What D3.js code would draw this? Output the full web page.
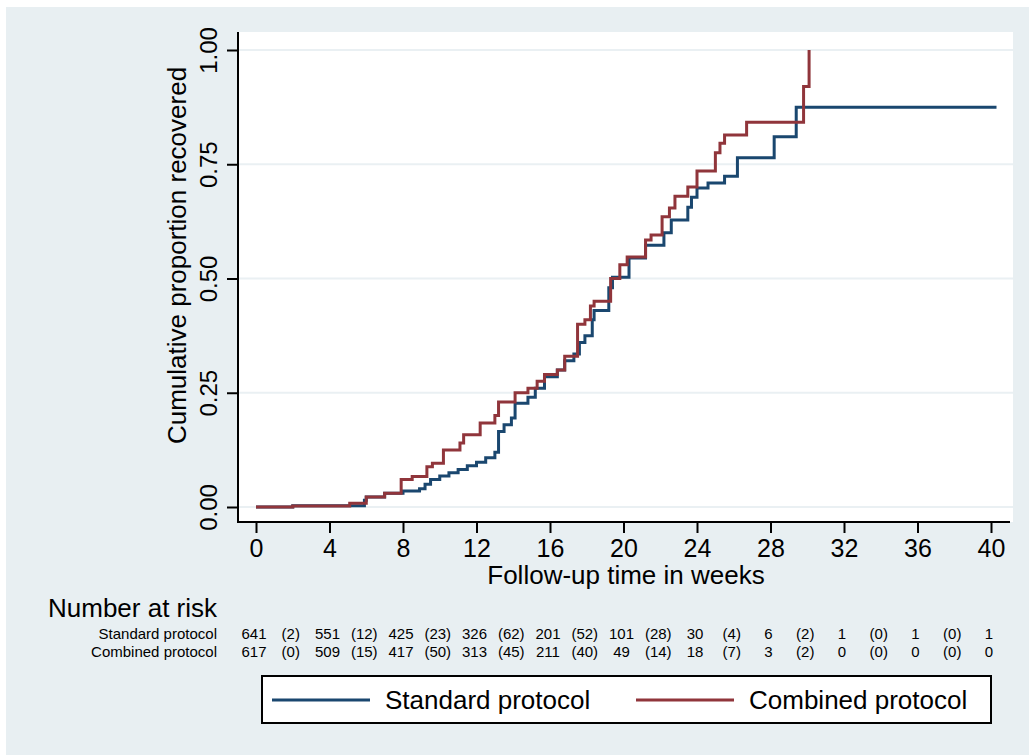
<!DOCTYPE html>
<html>
<head>
<meta charset="utf-8">
<script src="https://cdn.jsdelivr.net/npm/d3@7"></script>
<style>
  body { margin: 0; background: #fff; }
  text { font-family: "Liberation Sans", Arial, sans-serif; fill: #000; }
</style>
</head>
<body>
<svg width="1029" height="755"></svg>
<script>
// step points (time in weeks, cumulative proportion)
const stdTimes = [0, 2.0, 5.9, 6.0, 7.0, 8.0, 8.9, 9.2, 9.5, 10.0, 10.5, 11.0, 11.5, 12.0, 12.5, 13.0, 13.2, 13.5, 13.9, 14.1, 14.8, 15.2, 15.7, 16.4, 16.8, 17.3, 17.6, 17.9, 18.3, 18.4, 19.2, 19.4, 20.3, 21.2, 22.2, 22.6, 23.5, 23.7, 24.0, 24.6, 25.5, 26.2, 28.2, 29.4, 40.3];
const stdValues = [0, 0.003, 0.015, 0.022, 0.03, 0.035, 0.04, 0.05, 0.06, 0.068, 0.075, 0.082, 0.09, 0.098, 0.108, 0.12, 0.165, 0.18, 0.195, 0.227, 0.24, 0.26, 0.285, 0.30, 0.32, 0.335, 0.36, 0.375, 0.41, 0.43, 0.48, 0.503, 0.545, 0.573, 0.60, 0.628, 0.656, 0.678, 0.698, 0.709, 0.724, 0.764, 0.81, 0.875, 0.875];

const cmbTimes = [0, 2.0, 5.1, 6.0, 7.0, 7.9, 8.5, 9.3, 9.6, 10.2, 11.1, 11.3, 12.2, 13.0, 13.2, 14.1, 14.8, 15.3, 15.7, 16.4, 16.8, 17.5, 17.9, 18.2, 18.4, 19.3, 19.8, 20.2, 21.2, 21.5, 22.1, 22.5, 22.8, 23.5, 24.0, 25.0, 25.25, 25.5, 26.7, 29.8, 30.1, 30.1];
const cmbValues = [0, 0.002, 0.008, 0.022, 0.03, 0.06, 0.067, 0.088, 0.096, 0.125, 0.14, 0.158, 0.184, 0.20, 0.23, 0.25, 0.26, 0.275, 0.29, 0.30, 0.33, 0.40, 0.41, 0.44, 0.45, 0.50, 0.53, 0.547, 0.584, 0.595, 0.635, 0.654, 0.68, 0.70, 0.735, 0.775, 0.796, 0.814, 0.842, 0.92, 1.0, 1.0];

const xTicks = [0, 4, 8, 12, 16, 20, 24, 28, 32, 36, 40];
const yTicks = [0, 0.25, 0.5, 0.75, 1];

// number at risk (at ticks) and events in between (in brackets)
const stdRisk = [641, 551, 425, 326, 201, 101, 30, 6, 1, 1, 1];
const stdEvents = [2, 12, 23, 62, 52, 28, 4, 2, 0, 0];
const cmbRisk = [617, 509, 417, 313, 211, 49, 18, 3, 0, 0, 0];
const cmbEvents = [0, 15, 50, 45, 40, 14, 7, 2, 0, 0];

const seriesNames = ['Standard protocol', 'Combined protocol'];
const colors = ['#1a476f', '#90353b'];

const svg = d3.select('svg');
const width = +svg.attr('width');
const height = +svg.attr('height');

const plot = { left: 238, right: 1013, top: 32, bottom: 522 };

// graph region background
svg.append('rect')
  .attr('x', 6).attr('y', 7)
  .attr('width', width - 6).attr('height', height - 7)
  .attr('fill', '#e8eff2');

svg.append('rect')
  .attr('x', plot.left).attr('y', plot.top)
  .attr('width', plot.right - plot.left).attr('height', plot.bottom - plot.top)
  .attr('fill', '#fff');

const xScale = d3.scaleLinear().domain([0, 40]).range([256, 991]);
const yScale = d3.scaleLinear().domain([0, 1]).range([507, 50]);

// gridlines
svg.append('g').selectAll('line').data(yTicks)
  .enter().append('line')
    .attr('x1', plot.left + 1).attr('x2', plot.right)
    .attr('y1', d => yScale(d)).attr('y2', d => yScale(d))
    .attr('stroke', '#eaf0f3')
    .attr('stroke-width', 2);

// y axis
const yAxisG = svg.append('g')
  .attr('transform', `translate(${plot.left},0)`)
  .call(d3.axisLeft(yScale).tickValues(yTicks).tickSize(11).tickFormat(d3.format('.2f')));
yAxisG.select('.domain').remove();
yAxisG.selectAll('.tick line').attr('stroke', '#000').attr('stroke-width', 2);
yAxisG.selectAll('.tick text')
  .attr('x', null).attr('dy', null)
  .attr('text-anchor', 'middle')
  .attr('transform', 'translate(-21,0) rotate(-90)')
  .style('font-size', '24px')
  .style('font-family', '"Liberation Sans", Arial, sans-serif')
  .attr('fill', '#000');

svg.append('text')
  .attr('transform', `translate(186,${(50 + 457) / 2 + 2}) rotate(-90)`)
  .attr('text-anchor', 'middle')
  .style('font-size', '26px')
  .text('Cumulative proportion recovered');

// x axis
const xAxisG = svg.append('g')
  .attr('transform', `translate(0,${plot.bottom})`)
  .call(d3.axisBottom(xScale).tickValues(xTicks).tickSize(11).tickPadding(4));
xAxisG.select('.domain').remove();
xAxisG.selectAll('.tick line').attr('stroke', '#000').attr('stroke-width', 2);
xAxisG.selectAll('.tick text')
  .attr('dy', null).attr('y', 35)
  .style('font-size', '25px')
  .style('font-family', '"Liberation Sans", Arial, sans-serif')
  .attr('fill', '#000');

svg.append('text')
  .attr('x', 626).attr('y', 584)
  .attr('text-anchor', 'middle')
  .style('font-size', '26px')
  .text('Follow-up time in weeks');

// axis lines
svg.append('line')
  .attr('x1', plot.left).attr('x2', plot.left)
  .attr('y1', plot.top).attr('y2', plot.bottom + 1)
  .attr('stroke', '#000').attr('stroke-width', 2);
svg.append('line')
  .attr('x1', plot.left - 1).attr('x2', plot.right - 3)
  .attr('y1', plot.bottom).attr('y2', plot.bottom)
  .attr('stroke', '#000').attr('stroke-width', 2);

// curves
const line = d3.line()
  .x(d => xScale(d[0]))
  .y(d => yScale(d[1]))
  .curve(d3.curveStepAfter);

const series = [
  d3.zip(stdTimes, stdValues),
  d3.zip(cmbTimes, cmbValues)
];

svg.append('g').selectAll('path').data(series)
  .enter().append('path')
    .attr('d', line)
    .attr('fill', 'none')
    .attr('stroke', (d, i) => colors[i])
    .attr('stroke-width', 3);

// number at risk table
svg.append('text')
  .attr('x', 48).attr('y', 617)
  .style('font-size', '26px')
  .text('Number at risk');

const rows = [
  { label: seriesNames[0], risk: stdRisk, events: stdEvents, y: 639 },
  { label: seriesNames[1], risk: cmbRisk, events: cmbEvents, y: 657 }
];

rows.forEach(r => {
  svg.append('text')
    .attr('x', 217).attr('y', r.y)
    .attr('text-anchor', 'end')
    .style('font-size', '15px')
    .text(r.label);

  svg.append('g').selectAll('text').data(r.risk)
    .enter().append('text')
      .attr('x', (d, i) => xScale(i * 4) - 2)
      .attr('y', r.y)
      .attr('text-anchor', 'middle')
      .style('font-size', '15px')
      .text(d => d);

  svg.append('g').selectAll('text').data(r.events)
    .enter().append('text')
      .attr('x', (d, i) => xScale(i * 4 + 2) - 2)
      .attr('y', r.y)
      .attr('text-anchor', 'middle')
      .style('font-size', '15px')
      .text(d => `(${d})`);
});

// legend
const legend = svg.append('g');
legend.append('rect')
  .attr('x', 262).attr('y', 676)
  .attr('width', 729).attr('height', 47)
  .attr('fill', '#fff')
  .attr('stroke', '#000')
  .attr('stroke-width', 2);

const legendX = [272, 636];
seriesNames.forEach((name, i) => {
  legend.append('line')
    .attr('x1', legendX[i]).attr('x2', legendX[i] + 98)
    .attr('y1', 700).attr('y2', 700)
    .attr('stroke', colors[i])
    .attr('stroke-width', 3);
  legend.append('text')
    .attr('x', legendX[i] + 113).attr('y', 709)
    .style('font-size', '26px')
    .text(name);
});
</script>
</body>
</html>
